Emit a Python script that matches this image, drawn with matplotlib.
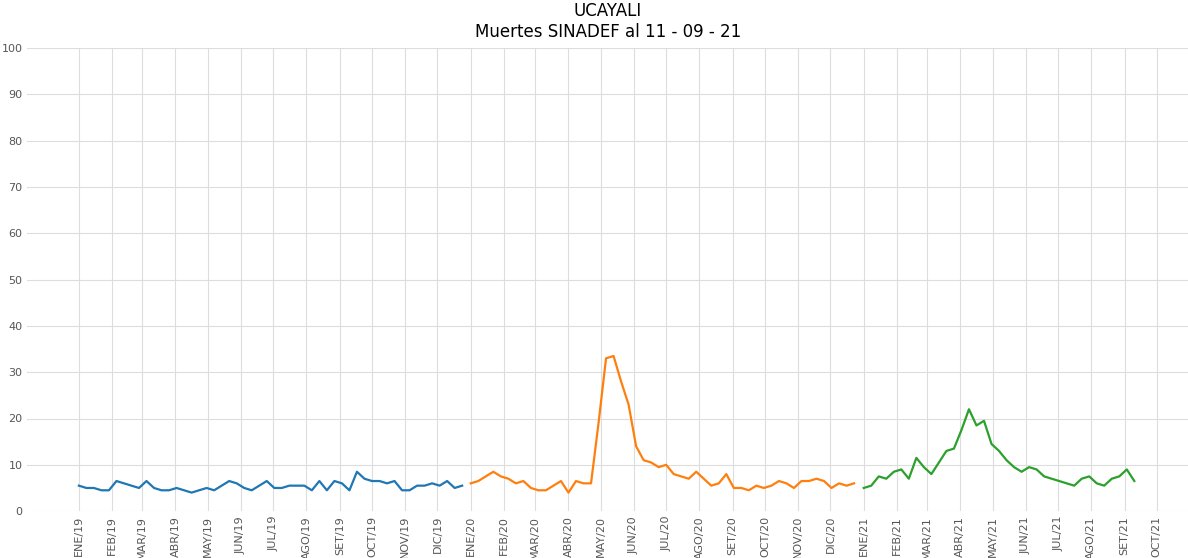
import matplotlib
matplotlib.use('Agg')
import matplotlib.pyplot as plt
import numpy as np
import pandas as pd

# weekly values (deaths per day)
y2019 = [5.5,5,5,4.5,4.5, 6.5,6,5.5,5, 6.5,5,4.5,4.5, 5,4.5,4,4.5,
         5,4.5,5.5,6.5,6, 5,4.5,5.5,6.5, 5,5,5.5,5.5,5.5, 4.5,6.5,4.5,6.5,
         6,4.5,8.5,7, 6.5,6.5,6,6.5, 4.5,4.5,5.5,5.5,6, 5.5,6.5,5,5.5]
y2020 = [6,6.5,7.5,8.5,7.5, 7,6,6.5,5, 4.5,4.5,5.5,6.5, 4,6.5,6,6,
         19,33,33.5,28,23, 14,11,10.5,9.5, 10,8,7.5,7, 8.5,7,5.5,6,8,
         5,5,4.5,5.5, 5,5.5,6.5,6, 5,6.5,6.5,7,6.5, 5,6,5.5,6]
y2021 = [5,5.5,7.5,7,8.5, 9,7,11.5,9.5, 8,10.5,13,13.5, 17.5,22,18.5,19.5,14.5,
         13,11,9.5,8.5, 9.5,9,7.5,7, 6.5,6,5.5,7, 7.5,6,5.5,7, 7.5,9,6.5]

meses = ['ENE','FEB','MAR','ABR','MAY','JUN','JUL','AGO','SET','OCT','NOV','DIC']

fig = plt.figure(figsize=(11.88, 5.58), dpi=100)
ax = fig.add_axes([0.023, 0.084, 0.977, 0.83])

series = [(2019, y2019, '#1f77b4'), (2020, y2020, '#ff7f0e'), (2021, y2021, '#2ca02c')]
for year, vals, col in series:
    d = pd.Timestamp(year, 1, 1) + pd.to_timedelta(np.arange(len(vals)) * 7, unit='D')
    ax.plot(d, vals, color=col, lw=1.6)

ticks = pd.date_range('2019-01-01', '2021-10-01', freq='MS')
ax.set_xticks(ticks)
ax.set_xticklabels([meses[t.month - 1] + '/' + str(t.year)[2:] for t in ticks],
                   rotation=90, fontsize=8, color='#555555')
ax.set_xlim(pd.Timestamp('2018-11-14'), pd.Timestamp('2021-10-30'))
ax.set_ylim(0, 100)
ax.set_yticks(range(0, 101, 10))
ax.tick_params(axis='y', labelsize=8, colors='#555555', length=0)
ax.tick_params(axis='x', length=0)
ax.grid(color='#dddddd', lw=0.8)
for s in ax.spines.values():
    s.set_visible(False)
ax.set_title('UCAYALI\nMuertes SINADEF al 11 - 09 - 21', fontsize=12, pad=8)
fig.savefig('out.png')
